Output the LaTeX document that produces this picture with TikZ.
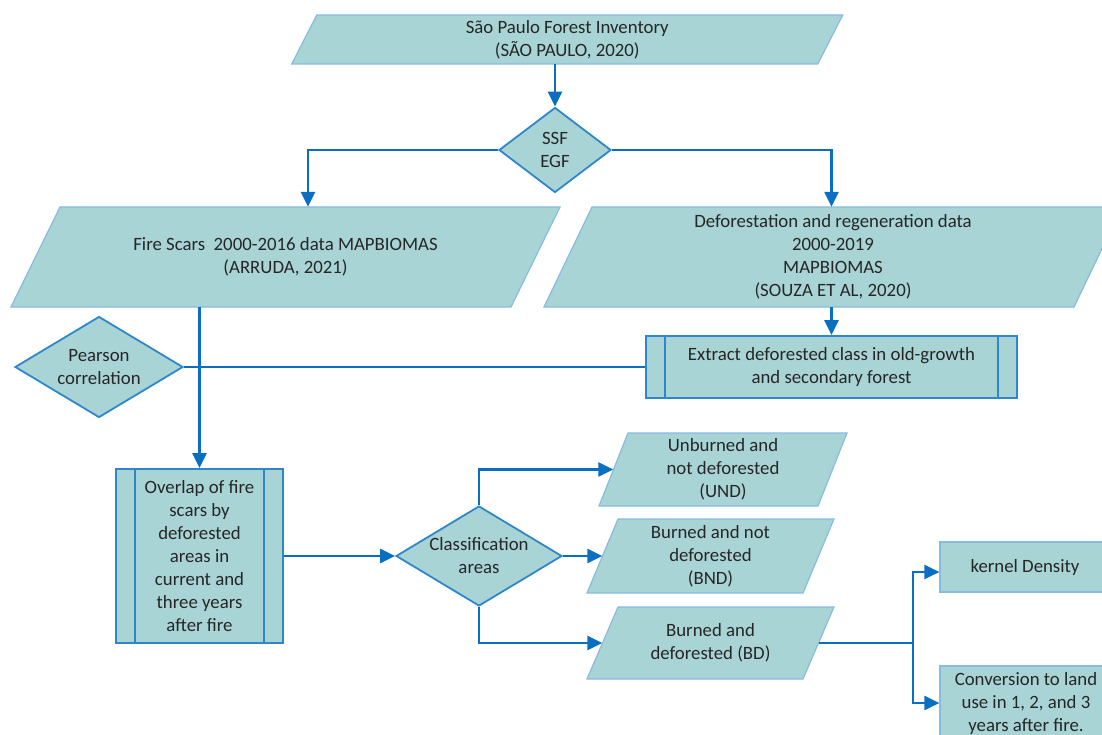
\documentclass[tikz,border=0pt]{standalone}
\usepackage{fontspec}
\setmainfont{Carlito}
\usetikzlibrary{arrows.meta,shapes.geometric}
\definecolor{fillc}{HTML}{A8D4D6}
\definecolor{lightb}{HTML}{86BCE0}
\definecolor{darkb}{HTML}{2E86CB}
\definecolor{conn}{HTML}{0A6FC2}
\definecolor{txtc}{HTML}{262626}
\tikzset{
 txt/.style={inner sep=0pt, align=center, text=txtc, font=\fontsize{18.8}{23}\selectfont},
 parashape/.style={fill=fillc, draw=lightb, line width=1.2pt, line join=miter},
 dia/.style={diamond, fill=fillc, draw=darkb, line width=1.8pt, inner sep=0pt},
 procbox/.style={rectangle, fill=fillc, draw=darkb, line width=1.8pt, inner sep=0pt},
 procline/.style={draw=darkb, line width=1.8pt},
 plainbox/.style={rectangle, fill=fillc, draw=lightb, line width=1.2pt, inner sep=0pt},
 conline/.style={draw=conn, line width=2.5pt},
 arr/.style={conline, -{Triangle[length=15pt,width=14pt]}},
}
% name, cx, cy, top width, height, slant, text
\newcommand\paranode[7]{%
 \path[parashape] (#2-#4/2+#6/2, #3-#5/2) -- ++(#4,0) -- ++(-#6,#5) -- ++(-#4,0) -- cycle;
 \node[txt, minimum width=#4pt, minimum height=#5pt] (#1) at (#2,#3) {#7};
}
\newcommand\procsides[1]{%
 \draw[procline] ([xshift=20pt]#1.north west) -- ([xshift=20pt]#1.south west);
 \draw[procline] ([xshift=-20pt]#1.north east) -- ([xshift=-20pt]#1.south east);
}
\begin{document}
\begin{tikzpicture}[x=1pt,y=-1pt]
\useasboundingbox (0,0) rectangle (1102,735);
\clip (0,0) rectangle (1102,735);

\paranode{inv}{567.25}{39.5}{526}{49}{25}{São Paulo Forest Inventory\\(SÃO PAULO, 2020)}
\node[dia, minimum width=112pt, minimum height=85pt] (ssf) at (555,150) {};
\node[txt] (ssfT) at (ssf) {SSF\\EGF};

\paranode{fire}{285.5}{257}{500}{100}{49}{Fire Scars\ \ 2000-2016 data MAPBIOMAS\\(ARRUDA, 2021)}
\paranode{defo}{833}{257}{530}{100}{48}{Deforestation and regeneration data\\2000-2019\\MAPBIOMAS\\(SOUZA ET AL, 2020)}

\node[procbox, txt, minimum width=371pt, minimum height=62pt] (extract) at (831.5,367) {Extract deforested class in old-growth\\and secondary forest};
\procsides{extract}

\node[dia, minimum width=168pt, minimum height=101pt] (pear) at (99,367) {};
\node[txt] (pearT) at (pear) {Pearson\\correlation};

\node[procbox, txt, minimum width=167pt, minimum height=174pt] (over) at (199.5,556) {Overlap of fire\\scars by\\deforested\\areas in\\current and\\three years\\after fire};
\procsides{over}

\node[dia, minimum width=166pt, minimum height=100pt] (cls) at (479,556) {};
\node[txt] (clsT) at (cls) {Classification\\areas};

\paranode{und}{723}{469.5}{219}{73}{29}{Unburned and\\not deforested\\(UND)}
\paranode{bnd}{710.5}{556}{216}{74}{31}{Burned and not\\deforested\\(BND)}
\paranode{bd}{710.5}{643}{216}{72}{31}{Burned and\\deforested (BD)}

\node[plainbox, txt, minimum width=170pt, minimum height=50pt] (kd) at (1025,567) {kernel Density};
\node[plainbox, txt, minimum width=172pt, minimum height=74pt] (conv) at (1026,703) {Conversion to land\\use in 1, 2, and 3\\years after fire.};

% connectors
\draw[arr] (inv.south -| ssf.north) -- (ssf.north);
\draw[arr] (ssf.west) -| ([xshift=22.5pt]fire.north);
\draw[arr] (ssf.east) -| (defo.north -| extract.north);
\draw[arr] (defo.south -| extract.north) -- (extract.north);
\draw[conline] (extract.west) -- (pear.east);
\draw[arr] (fire.south -| over.north) -- (over.north);
\draw[arr] (over.east) -- (cls.west);
\draw[arr] (cls.north) |- (und.west);
\draw[arr] (cls.east) -- (bnd.west);
\draw[arr] (cls.south) |- (bd.west);
\coordinate (split) at (913,643);
\draw[conline] (bd.east) -- (split);
\draw[arr] (split) |- ([yshift=-5pt]kd.west);
\draw[arr] (split) |- (conv.west);
\end{tikzpicture}
\end{document}
